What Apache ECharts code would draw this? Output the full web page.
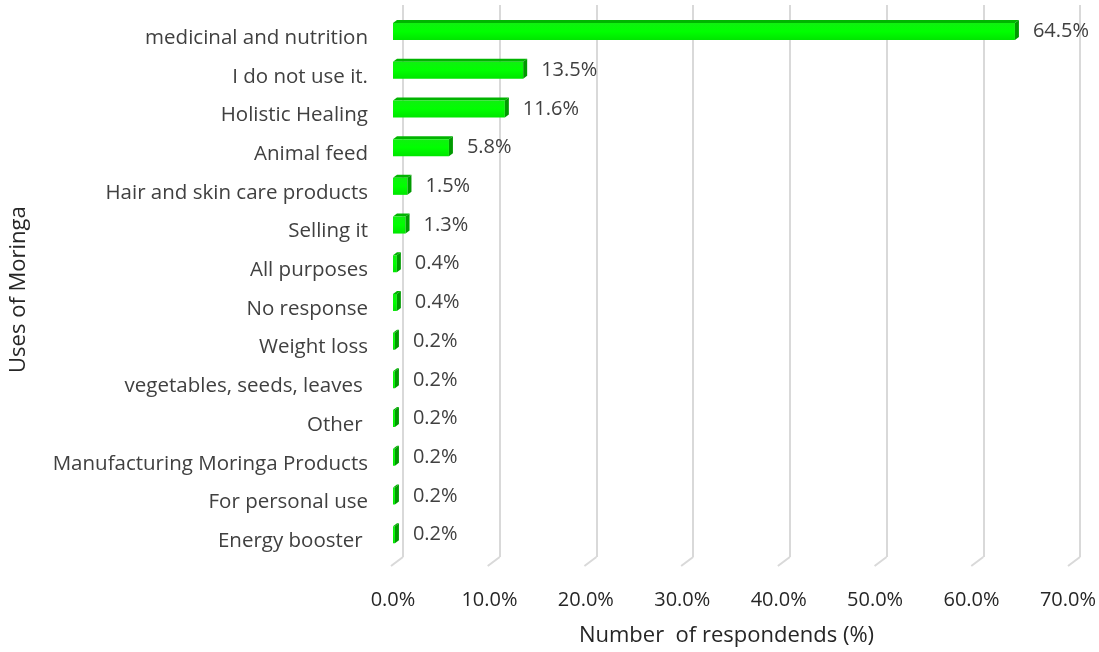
<!DOCTYPE html>
<html>
<head>
<meta charset="utf-8">
<script src="https://cdn.jsdelivr.net/npm/echarts@6/dist/echarts.min.js"></script>
<style>
  html, body { margin: 0; padding: 0; background: #ffffff; }
  #chart { width: 1099px; height: 652px; }
</style>
</head>
<body>
<div id="chart"></div>
<script>
// Uses of Moringa: share of respondents per use (%)
const categories = [
  'medicinal and nutrition',
  'I do not use it.',
  'Holistic Healing',
  'Animal feed',
  'Hair and skin care products',
  'Selling it',
  'All purposes',
  'No response',
  'Weight loss',
  'vegetables, seeds, leaves ',
  'Other ',
  'Manufacturing Moringa Products',
  'For personal use',
  'Energy booster '
];
const shares = [64.5, 13.5, 11.6, 5.8, 1.5, 1.3, 0.4, 0.4, 0.2, 0.2, 0.2, 0.2, 0.2, 0.2];
const axisTicks = [0, 10, 20, 30, 40, 50, 60, 70];

const FONT = '"Open Sans", "Noto Sans", sans-serif';
const chart = echarts.init(document.getElementById('chart'), null, { renderer: 'canvas' });

// 3D-looking bar: front face, top face and right end face
function renderBar(params, api) {
  const v = api.value(0);
  const c = api.value(1);
  const p0 = api.coord([0, c]);
  const p1 = api.coord([v, c]);
  const dx = 4, dy = 3, h = 17;
  const yBot = p0[1] + 2;
  const yTop = yBot - h;
  const x0 = p0[0], x1 = Math.max(p1[0], x0 + 1.5);
  return {
    type: 'group',
    children: [
      {
        type: 'polygon',
        shape: { points: [[x0, yTop], [x1, yTop], [x1 + dx, yTop - dy], [x0 + dx, yTop - dy]] },
        style: { fill: '#00b400' }
      },
      {
        type: 'rect',
        shape: { x: x0, y: yTop, width: x1 - x0, height: h },
        style: {
          fill: new echarts.graphic.LinearGradient(0, 0, 0, 1, [
            { offset: 0, color: '#10f010' },
            { offset: 0.5, color: '#00ff00' },
            { offset: 1, color: '#00e600' }
          ])
        }
      },
      {
        type: 'polygon',
        shape: { points: [[x1, yTop], [x1 + dx, yTop - dy], [x1 + dx, yBot - dy], [x1, yBot]] },
        style: { fill: '#009a00' }
      },
      {
        type: 'text',
        style: {
          text: v.toFixed(1) + '%',
          x: x1 + dx + 14,
          y: yBot - h / 2,
          verticalAlign: 'middle',
          align: 'left',
          fill: '#404040',
          font: '20px ' + FONT
        }
      }
    ]
  };
}

// Slanted floor segment at the foot of each back-wall gridline
function renderFloor(params, api) {
  const p = api.coord([api.value(0), 0]);
  return {
    type: 'polyline',
    shape: { points: [[p[0], p[1]], [p[0] - 12, p[1] + 9]] },
    style: { stroke: '#d9d9d9', lineWidth: 2, fill: null }
  };
}

const option = {
  backgroundColor: '#ffffff',
  animation: false,
  grid: [
    { left: 403, right: 19, top: 5, bottom: 95 },
    { left: 393, right: 26, top: 18.7, bottom: 91.5 }
  ],
  xAxis: [
    {
      gridIndex: 0, type: 'value', min: 0, max: 70, interval: 10,
      axisLine: { show: false }, axisTick: { show: false }, axisLabel: { show: false },
      splitLine: { show: true, lineStyle: { color: '#d9d9d9', width: 2 } }
    },
    {
      gridIndex: 1, type: 'value', min: 0, max: 70, interval: 10,
      axisLine: { show: false }, axisTick: { show: false }, splitLine: { show: false },
      axisLabel: {
        margin: 30, color: '#262626', fontSize: 20, fontFamily: FONT,
        formatter: v => v.toFixed(1) + '%'
      },
      name: 'Number  of respondends (%)',
      nameLocation: 'middle', nameGap: 64,
      nameTextStyle: { color: '#262626', fontSize: 22, fontFamily: FONT, padding: [0, 8, 0, 0] }
    }
  ],
  yAxis: [
    {
      gridIndex: 0, type: 'value', min: 0, max: 1, show: false
    },
    {
      gridIndex: 1, type: 'category', data: categories, inverse: true,
      axisLine: { show: false }, axisTick: { show: false }, splitLine: { show: false },
      axisLabel: { margin: 25, color: '#404040', fontSize: 20.5, fontFamily: FONT },
      name: 'Uses of Moringa',
      nameLocation: 'middle', nameGap: 363, nameRotate: 90,
      nameTextStyle: { color: '#262626', fontSize: 22, fontFamily: FONT }
    }
  ],
  series: [
    {
      type: 'custom', xAxisIndex: 0, yAxisIndex: 0,
      data: axisTicks.map(t => [t]),
      renderItem: renderFloor, silent: true, z: 1
    },
    {
      type: 'custom', xAxisIndex: 1, yAxisIndex: 1,
      data: shares.map((v, i) => [v, i]),
      encode: { x: 0, y: 1 },
      renderItem: renderBar, z: 3
    }
  ]
};
chart.setOption(option);
</script>
</body>
</html>
